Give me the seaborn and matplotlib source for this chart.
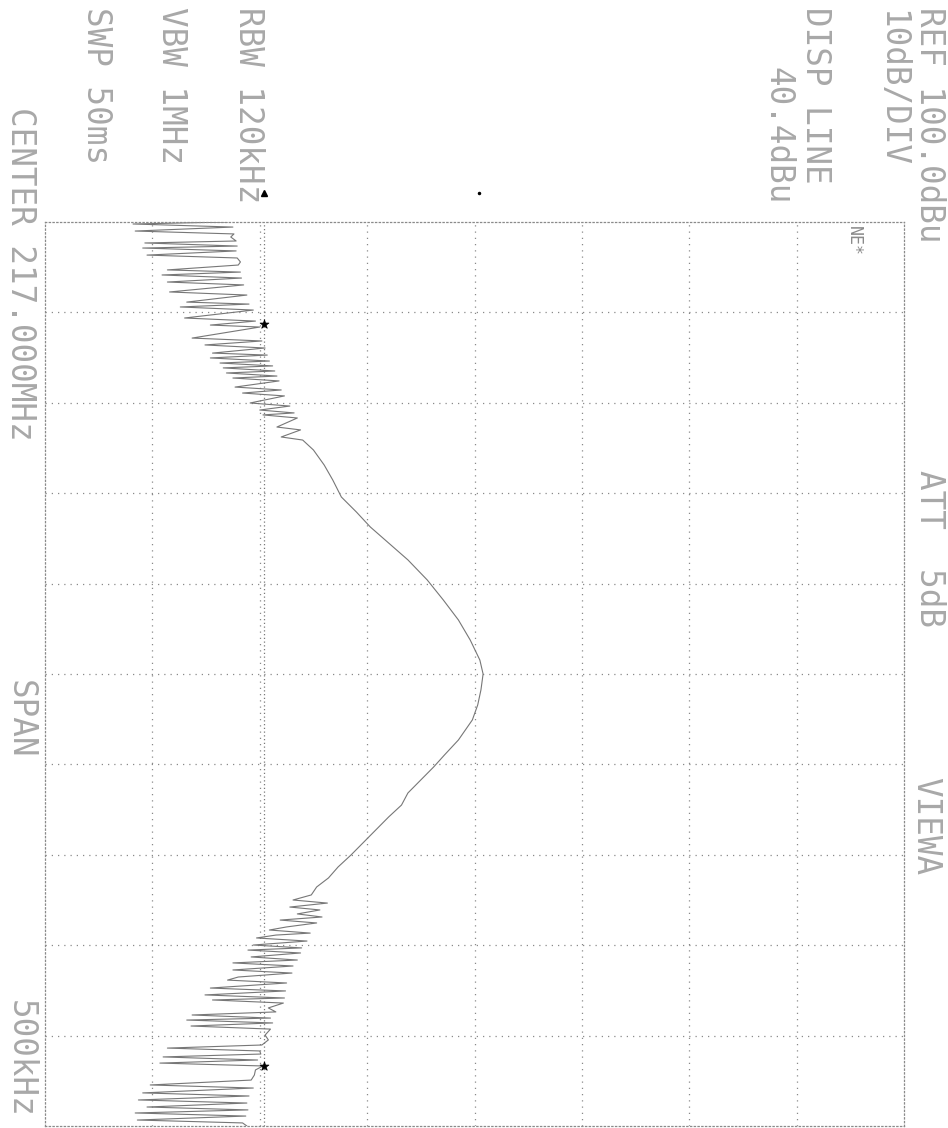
import numpy as np
import pandas as pd
import matplotlib
matplotlib.use('Agg')
import matplotlib.pyplot as plt
import seaborn as sns

# Spectrum analyzer trace (printed page is rotated: level runs left->right, frequency top->bottom)
# frequency offset from 217.000 MHz centre, kHz
freq_khz = [
    -250, -248.9, -247.2, -245.0, -243.4, -241.7, -239.5, -238.4, -236.7, -235.6,
    -234.0, -231.7, -230.1, -227.9, -226.2, -223.5, -222.3, -220.7, -219.0, -216.8,
    -215.2, -211.3, -209.6, -205.7, -204.6, -203.0, -201.3, -196.9, -195.2, -193.0,
    -191.9, -185.8, -184.2, -182.0, -180.3, -177.5, -176.4, -174.8, -173.1, -172.0,
    -170.4, -169.3, -167.6, -166.5, -164.8, -163.7, -162.1, -158.7, -157.1, -155.4,
    -153.8, -149.9, -148.2, -146.0, -144.4, -143.3, -141.6, -136.6, -135.0, -131.1,
    -129.4, -123.9, -115.6, -107.3, -97.9, -89.6, -81.3, -71.4, -63.1, -52.0,
    -40.9, -29.9, -18.8, -7.7, 0.0, 8.8, 17.1, 25.4, 36.5, 44.8,
    51.4, 58.6, 65.8, 72.5, 79.1, 86.3, 93.5, 100.1, 106.7, 112.8,
    117.8, 122.2, 125.0, 126.7, 128.9, 130.5, 132.7, 134.4, 136.1, 137.7,
    139.9, 141.6, 143.3, 144.4, 146.0, 147.7, 149.9, 151.5, 152.7, 154.3,
    156.5, 158.2, 159.8, 161.5, 163.7, 165.4, 167.6, 169.3, 170.9, 173.7,
    175.3, 177.5, 179.2, 180.3, 182.0, 184.7, 186.9, 188.6, 190.3, 191.4,
    193.0, 194.7, 196.4, 199.7, 202.4, 205.2, 206.9, 208.5, 210.2, 211.8,
    213.5, 215.2, 216.8, 219.0, 221.8, 224.6, 227.3, 229.0, 231.7, 233.4,
    235.6, 237.3, 239.5, 241.1, 242.8, 244.5, 246.7, 248.3, 250,
]
# level, dBu
level_dbu = [
    37.0, 28.2, 37.5, 28.4, 37.6, 37.3, 37.8, 29.3, 37.9, 29.1,
    37.8, 29.5, 37.9, 38.2, 38.0, 31.4, 38.2, 30.9, 38.3, 31.4,
    38.5, 31.6, 38.8, 33.2, 39.0, 32.6, 39.4, 33.0, 39.6, 35.4,
    40.0, 33.7, 40.2, 34.9, 40.5, 35.6, 40.7, 35.4, 40.9, 36.3,
    41.2, 36.6, 41.4, 36.9, 41.6, 37.5, 41.8, 37.7, 42.0, 38.4,
    42.3, 39.1, 42.8, 40.0, 43.2, 40.3, 43.5, 41.6, 43.8, 42.0,
    44.0, 45.0, 46.0, 46.8, 47.6, 49.0, 50.3, 52.2, 53.8, 55.6,
    57.1, 58.5, 59.6, 60.5, 60.8, 60.6, 60.3, 59.8, 58.5, 57.2,
    56.2, 55.0, 53.8, 53.2, 52.0, 50.8, 49.6, 48.5, 47.3, 46.4,
    45.3, 44.8, 43.1, 46.3, 42.8, 45.6, 43.5, 45.8, 41.9, 45.3,
    42.5, 40.9, 44.7, 41.5, 39.7, 44.4, 39.4, 43.9, 38.9, 43.8,
    39.2, 43.5, 37.5, 43.1, 37.5, 43.0, 38.0, 37.0, 42.5, 35.4,
    42.4, 34.9, 42.3, 35.6, 42.2, 40.8, 41.5, 33.7, 41.0, 33.2,
    41.2, 33.6, 41.0, 40.5, 40.8, 40.2, 31.4, 40.0, 40.1, 31.0,
    39.8, 30.7, 40.3, 39.6, 39.5, 39.2, 29.8, 39.4, 29.1, 39.0,
    28.7, 38.8, 29.5, 38.9, 28.4, 38.7, 28.6, 38.4, 38.8,
]

disp_line_dbu = 40.4
marker_freq_khz = [-193.5, 216.8]
marker_level_dbu = [40.4, 40.4]
arrow_levels_dbu = [40.4, 60.4]

ref_level = 100
db_per_div = 10
span_khz = 500

trace = pd.DataFrame({'freq': freq_khz, 'level': level_dbu})
markers = pd.DataFrame({'freq': marker_freq_khz, 'level': marker_level_dbu})

sns.set_style('white')
plt.rcParams['font.family'] = ['DejaVu Sans Mono', 'DejaVu Sans']

W, H = 948, 1128
fig = plt.figure(figsize=(W / 100, H / 100), dpi=100)
ax = fig.add_axes([45 / W, 2 / H, 859 / W, 904 / H])

sns.lineplot(data=trace, x='level', y='freq', sort=False, estimator=None,
             color='#777777', linewidth=0.8, ax=ax)
sns.scatterplot(data=markers, x='level', y='freq', marker='*', s=45,
                color='black', edgecolor='black', ax=ax, zorder=5)

ax.set_xlim(ref_level - 8 * db_per_div, ref_level)
ax.set_ylim(span_khz / 2, -span_khz / 2)
ax.set_xticks(np.arange(ref_level - 7 * db_per_div, ref_level, db_per_div))
ax.set_yticks(np.arange(-span_khz / 2 + span_khz / 10, span_khz / 2, span_khz / 10))
ax.grid(True, linestyle=(0, (1, 4)), color='#8a8a8a', linewidth=0.9)
ax.tick_params(left=False, bottom=False, labelleft=False, labelbottom=False)
ax.set_xlabel('')
ax.set_ylabel('')
for sp in ax.spines.values():
    sp.set_linestyle((0, (1, 2)))
    sp.set_color('#8a8a8a')
    sp.set_linewidth(0.9)

# display line and the small indicators above the graticule
ax.axvline(disp_line_dbu, color='#7a7a7a', linestyle=(0, (1, 2)), linewidth=0.9)
ax.plot(arrow_levels_dbu[:1], [-span_khz / 2 - 16], marker='^', color='black',
        markersize=4, clip_on=False, linestyle='none')
ax.plot(arrow_levels_dbu[1:], [-span_khz / 2 - 16], marker='.', color='black',
        markersize=3, clip_on=False, linestyle='none')

txt = dict(rotation=-90, ha='center', va='top', color='#a8a8a8', fontsize=23.5)


def put(x, y, s, **kw):
    fig.text(x / W, 1 - y / H, s, **{**txt, **kw})


put(248, 7, 'RBW 120kHz')
put(172, 7, 'VBW 1MHz')
put(96, 7, 'SWP 50ms')
put(20, 107, 'CENTER 217.000MHz')
put(20, 680, 'SPAN')
put(20, 1000, '500kHz')
put(929, 7, 'REF 100.0dBu')
put(892, 10, '10dB/DIV')
put(815, 7, 'DISP LINE')
put(778, 67, '40.4dBu')
put(929, 470, 'ATT  5dB')
put(926, 777, 'VIEWA')
put(854, 226, 'NE*', fontsize=12, color='#8a8a8a')

fig.savefig('out.png', dpi=100)
